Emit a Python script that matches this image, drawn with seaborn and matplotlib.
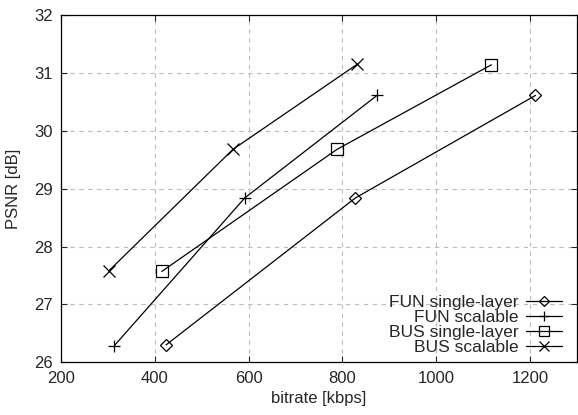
import numpy as np
import pandas as pd
import matplotlib
matplotlib.use("Agg")
import matplotlib.pyplot as plt
import seaborn as sns

# data
series = ["FUN single-layer", "FUN scalable", "BUS single-layer", "BUS scalable"]
markers = ["D", "+", "s", "x"]
msizes = [6, 9, 9, 9]

fun_single_x = [424, 828, 1212]
fun_single_y = [26.30, 28.84, 30.61]
fun_scal_x = [314, 592, 874]
fun_scal_y = [26.29, 28.84, 30.61]
bus_single_x = [415, 789, 1118]
bus_single_y = [27.57, 29.68, 31.14]
bus_scal_x = [302, 567, 832]
bus_scal_y = [27.58, 29.68, 31.15]

xs = [fun_single_x, fun_scal_x, bus_single_x, bus_scal_x]
ys = [fun_single_y, fun_scal_y, bus_single_y, bus_scal_y]

sns.set_style("ticks")
plt.rcParams["font.family"] = ["Liberation Sans", "DejaVu Sans"]
plt.rcParams["font.size"] = 12

fig = plt.figure(figsize=(5.78, 4.15), dpi=100)
ax = fig.add_axes([61 / 578, 1 - 362.3 / 415, (576.7 - 61) / 578, (362.3 - 15) / 415])

for name, x, y, m, ms in zip(series, xs, ys, markers, msizes):
    df = pd.DataFrame({"bitrate": x, "psnr": y})
    sns.lineplot(data=df, x="bitrate", y="psnr", ax=ax, color="black",
                 linewidth=0.9, marker=m, markersize=ms, markerfacecolor="none",
                 markeredgecolor="black", markeredgewidth=0.9, label=name)

ax.set_xlim(200, 1300)
ax.set_ylim(26, 32)
ax.set_xticks(np.arange(200, 1201, 200))
ax.set_yticks(np.arange(26, 33, 1))
ax.grid(True, color="#bdbdbd", linestyle=(0, (4, 4)), linewidth=0.8)
ax.tick_params(direction="in", top=True, right=True, length=4, width=0.8,
               labelsize=12, pad=6)
for s in ax.spines.values():
    s.set_linewidth(0.9)
    s.set_color("black")

ax.set_xlabel("bitrate [kbps]", fontsize=12, labelpad=4)
ax.set_ylabel("PSNR [dB]", fontsize=12, labelpad=9)

ax.legend(loc="lower right", bbox_to_anchor=(0.985, 0.0), frameon=False,
          markerfirst=False, fontsize=12.5, handlelength=2.1, labelspacing=0.0,
          borderaxespad=0.2, handletextpad=0.4, borderpad=0.2, markerscale=0.8)

fig.savefig("out.png", dpi=100)
